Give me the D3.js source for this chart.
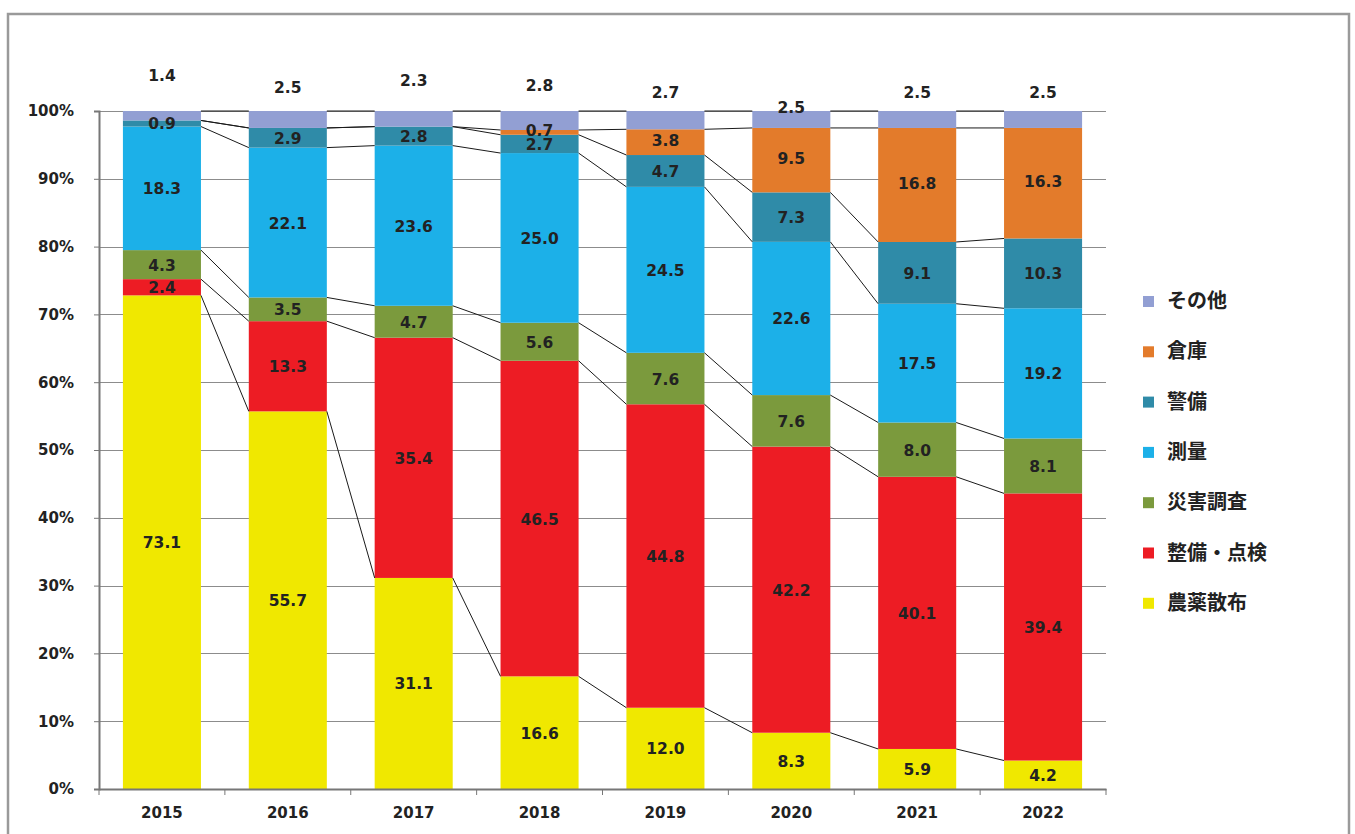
<!DOCTYPE html>
<html>
<head>
<meta charset="utf-8">
<script src="https://cdn.jsdelivr.net/npm/d3@7"></script>
<style>
  body { margin: 0; background: #fff; }
  svg  { display: block; }
</style>
</head>
<body>
<script>
// ---------------------------------------------------------------
// data
// ---------------------------------------------------------------
var years   = ["2015", "2016", "2017", "2018", "2019", "2020", "2021", "2022"]
  , series  = ["農薬散布", "整備・点検", "災害調査", "測量", "警備", "倉庫", "その他"]
  , nouyaku = [73.1, 55.7, 31.1, 16.6, 12.0, 8.3, 5.9, 4.2]
  , seibi   = [2.4, 13.3, 35.4, 46.5, 44.8, 42.2, 40.1, 39.4]
  , saigai  = [4.3, 3.5, 4.7, 5.6, 7.6, 7.6, 8.0, 8.1]
  , sokuryo = [18.3, 22.1, 23.6, 25.0, 24.5, 22.6, 17.5, 19.2]
  , keibi   = [0.9, 2.9, 2.8, 2.7, 4.7, 7.3, 9.1, 10.3]
  , souko   = [0.0, 0.0, 0.0, 0.7, 3.8, 9.5, 16.8, 16.3]
  , sonota  = [1.4, 2.5, 2.3, 2.8, 2.7, 2.5, 2.5, 2.5]
  , yTicks  = [0, 0.1, 0.2, 0.3, 0.4, 0.5, 0.6, 0.7, 0.8, 0.9, 1]

// ---------------------------------------------------------------
// layout / style
// ---------------------------------------------------------------
var W = 1355, H = 834
  , colors = ["#f0e800", "#ed1c24", "#7b9a3d", "#1cb0e8", "#2f8ba8", "#e37b2b", "#929fd3"]
  , otherLabelY = [75, 87, 80, 85, 92, 107, 92, 92]   // hand placed labels above bars
  , num = "'DejaVu Sans', Verdana, sans-serif"
  , cjk = "'Noto Sans CJK JP', sans-serif"

var svg = d3.select("body").append("svg")
    .attr("width", W).attr("height", H)

// outer frame
svg.append("rect")
    .attr("x", 8).attr("y", 14).attr("width", 1341).attr("height", 840)
    .attr("fill", "none").attr("stroke", "#9a9a9a").attr("stroke-width", 2.5)

var x = d3.scaleBand().domain(years).range([99, 1106]).paddingInner(0.38).paddingOuter(0.19)
  , y = d3.scaleLinear().domain([0, 1]).range([789, 111])

// ---------------------------------------------------------------
// stack (100% stacked)
// ---------------------------------------------------------------
var values = [nouyaku, seibi, saigai, sokuryo, keibi, souko, sonota]
  , rows = years.map(function (yr, i) {
        var r = { year: yr }, tot = 0
        values.forEach(function (v) { tot += v[i] })
        series.forEach(function (s, k) { r[s] = values[k][i] / tot })
        r.raw = values.map(function (v) { return v[i] })
        return r
    })
  , stacked = d3.stack().keys(series)(rows)

// gridlines
svg.append("g").selectAll("line").data(yTicks.slice(1)).join("line")
    .attr("x1", 99).attr("x2", 1106)
    .attr("y1", function (d) { return Math.round(y(d)) + 0.5 })
    .attr("y2", function (d) { return Math.round(y(d)) + 0.5 })
    .attr("stroke", "#8c8c8c").attr("stroke-width", 1)

// bars
var layer = svg.append("g").selectAll("g").data(stacked).join("g")
    .attr("fill", function (d, k) { return colors[k] })

layer.selectAll("rect").data(function (d) { return d }).join("rect")
    .attr("x", function (d) { return x(d.data.year) })
    .attr("width", x.bandwidth())
    .attr("y", function (d) { return y(d[1]) })
    .attr("height", function (d) { return y(d[0]) - y(d[1]) })

// series lines
var lines = []
stacked.forEach(function (s) {
    for (var i = 0; i < years.length - 1; i++) {
        lines.push({ x1: x(years[i]) + x.bandwidth(), y1: y(s[i][1]),
                     x2: x(years[i + 1]),             y2: y(s[i + 1][1]) })
    }
})
svg.append("g").selectAll("line").data(lines).join("line")
    .attr("x1", function (d) { return d.x1 }).attr("y1", function (d) { return d.y1 })
    .attr("x2", function (d) { return d.x2 }).attr("y2", function (d) { return d.y2 })
    .attr("stroke", "#1a1a1a").attr("stroke-width", 1)

// axes
var yAxis = d3.axisLeft(y).tickValues(yTicks).tickFormat(d3.format(".0%")).tickSize(5).tickPadding(20)
  , xAxis = d3.axisBottom(x).tickSize(0).tickPadding(18)

var gy = svg.append("g").attr("transform", "translate(99,0)").call(yAxis)
var gx = svg.append("g").attr("transform", "translate(0,789)").call(xAxis)

;[gy, gx].forEach(function (g) {
    g.select(".domain").attr("stroke", "#777").attr("stroke-width", 2)
    g.selectAll(".tick line").attr("stroke", "#777")
    g.selectAll("text").attr("fill", "#222").attr("font-family", num)
        .attr("font-weight", "bold").attr("font-size", 15)
})

// tick marks between categories
svg.append("g").selectAll("line").data(d3.range(years.length + 1)).join("line")
    .attr("x1", function (i) { return 99 + i * x.step() })
    .attr("x2", function (i) { return 99 + i * x.step() })
    .attr("y1", 789).attr("y2", 795)
    .attr("stroke", "#777")

// segment labels
stacked.forEach(function (s, k) {
    if (k === series.length - 1) return
    svg.append("g").selectAll("text")
        .data(s.filter(function (d, i) { return d.data.raw[k] > 0 }))
        .join("text")
        .attr("x", function (d) { return x(d.data.year) + x.bandwidth() / 2 })
        .attr("y", function (d) { return y((d[0] + d[1]) / 2) + 6 - (k === 5 ? 2 : 0) })
        .attr("text-anchor", "middle")
        .attr("font-family", num).attr("font-size", 15.5).attr("font-weight", "bold")
        .attr("fill", "#222")
        .text(function (d) { return d.data.raw[k].toFixed(1) })
})

// その他 labels, above the bars
svg.append("g").selectAll("text").data(rows).join("text")
    .attr("x", function (d) { return x(d.year) + x.bandwidth() / 2 })
    .attr("y", function (d, i) { return otherLabelY[i] + 6 })
    .attr("text-anchor", "middle")
    .attr("font-family", num).attr("font-size", 15.5).attr("font-weight", "bold")
    .attr("fill", "#222")
    .text(function (d) { return d.raw[series.length - 1].toFixed(1) })

// legend (top entry = last series)
var leg = svg.append("g").selectAll("g").data(series.slice().reverse()).join("g")
    .attr("transform", function (d, i) { return "translate(1143," + (300 + i * 50.3) + ")" })

leg.append("rect")
    .attr("x", 0).attr("y", -4).attr("width", 11).attr("height", 11)
    .attr("fill", function (d) { return colors[series.indexOf(d)] })

leg.append("text")
    .attr("x", 24).attr("y", 8)
    .attr("font-family", cjk).attr("font-size", 20).attr("font-weight", "bold")
    .attr("fill", "#222")
    .text(function (d) { return d })
</script>
</body>
</html>
